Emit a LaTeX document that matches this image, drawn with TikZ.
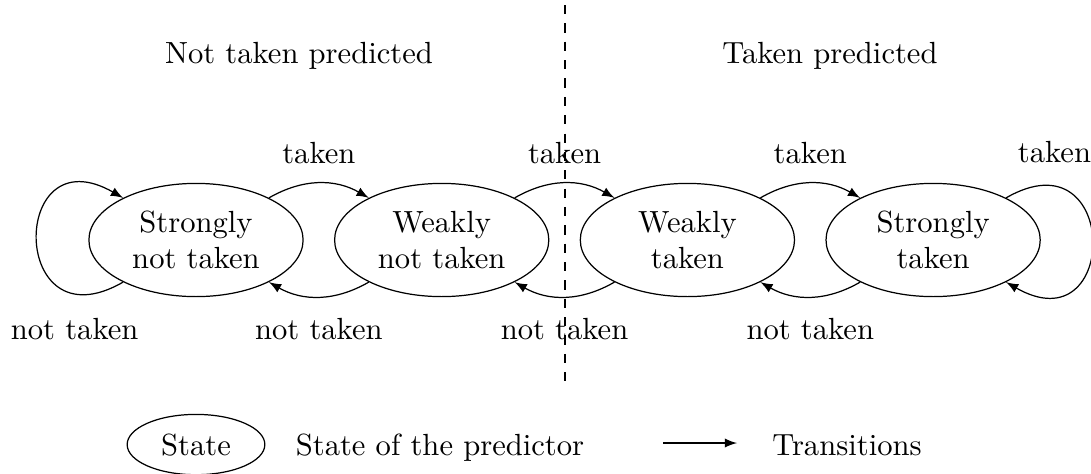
\documentclass[tikz,border=0pt]{standalone}
\usetikzlibrary{shapes.geometric,arrows}
\begin{document}
\begin{tikzpicture}[x=0.3268pt,y=0.3268pt,
  state/.style={ellipse,draw,align=center},
  bigstate/.style={state,minimum width=70pt,minimum height=37pt},
  trans/.style={-latex},
  title/.style={anchor=base}]
\useasboundingbox (0,0) rectangle (1091,473);
% states
\node[bigstate] (s1) at (196,233) {Strongly\\not taken};
\node[bigstate] (s2) at (441.7,233) {Weakly\\not taken};
\node[bigstate] (s3) at (687.4,233) {Weakly\\taken};
\node[bigstate] (s4) at (933.1,233) {Strongly\\taken};
% taken transitions
\draw[trans] (s1) to[bend left=30] node[above=2.8pt] {taken} (s2);
\draw[trans] (s2) to[bend left=30] node[above=2.8pt] {taken} (s3);
\draw[trans] (s3) to[bend left=30] node[above=2.8pt] {taken} (s4);
\draw[trans] (s4.30) .. controls +(30:132) and +(-30:132) .. node[pos=0.17,above=4pt] {taken} (s4.-30);
% not taken transitions
\draw[trans] (s4) to[bend left=30] node[below=3.6pt] {not taken} (s3);
\draw[trans] (s3) to[bend left=30] node[below=3.6pt] {not taken} (s2);
\draw[trans] (s2) to[bend left=30] node[below=3.6pt] {not taken} (s1);
\draw[trans] (s1.210) .. controls +(210:132) and +(150:132) .. node[pos=0.17,below=4.4pt] {not taken} (s1.150);
% regions
\node[title] (nt) at (299,410) {Not taken predicted};
\node[title] (tp) at (830,410) {Taken predicted};
\coordinate (d1) at (565,468);
\coordinate (d2) at (565,90);
\draw[dashed] (d1) -- (d2);
% legend
\node[state,minimum width=45pt,anchor=base] (legstate) at (196,18) {State};
\node[title] (legtext) at (440,18) {State of the predictor};
\coordinate (a1) at (663,30);
\coordinate (a2) at (737,30);
\draw[trans] (a1) -- (a2);
\node[title] (legtrans) at (847,18) {Transitions};
\end{tikzpicture}
\end{document}
